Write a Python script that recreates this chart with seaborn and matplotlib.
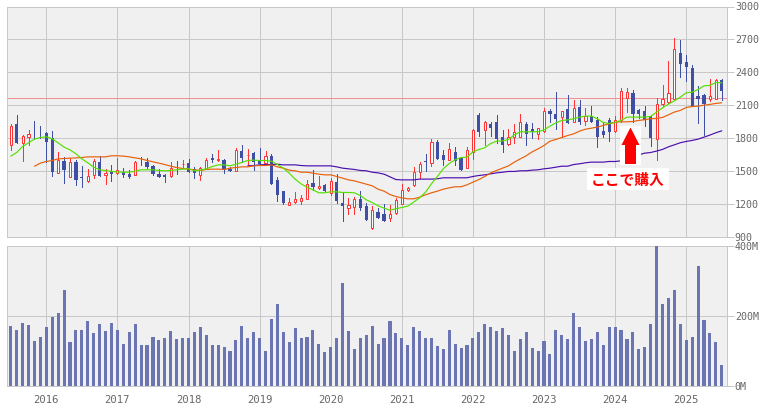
import numpy as np
import matplotlib
matplotlib.use("Agg")
import matplotlib.pyplot as plt
from matplotlib.patches import Polygon, Rectangle
import seaborn as sns

# monthly candles, 2015-07 .. 2025-07
opens = [1737,1923,1755,1807,1840,1856,1847,1801,1478,1588,1442,1576,1439,1405,1460,1576,1460,1497,1478,1490,1475,1463,1573,1576,1548,1472,1466,1451,1539,1560,1573,1512,1460,
         1518,1621,1603,1600,1512,1496,1685,1643,1658,1594,1569,1639,1417,1311,1186,1213,1223,1241,1393,1341,1366,1293,1399,1207,1159,1168,1238,1174,982,1128,1101,1068,
         1119,1201,1323,1366,1487,1585,1570,1767,1640,1597,1676,1621,1530,1676,2005,1868,1923,1941,1804,1743,1804,1813,1923,1886,1840,1859,2050,2023,1987,2060,1950,2078,
         1953,1996,1960,1859,1960,1859,1960,2169,2206,2051,2042,1996,1786,2106,2124,2151,2580,2489,2443,2179,2188,2151,2160,2325]
highs = [1923,2005,1831,1874,1959,1913,1856,1859,1676,1624,1618,1594,1548,1518,1612,1637,1518,1557,1621,1527,1503,1585,1630,1621,1557,1512,1475,1576,1588,1600,1612,1536,1539,
         1621,1649,1694,1609,1539,1709,1740,1703,1667,1709,1682,1649,1439,1320,1253,1302,1283,1417,1503,1448,1375,1430,1475,1308,1253,1265,1320,1210,1174,1156,1201,1192,
         1247,1375,1350,1539,1576,1649,1786,1777,1694,1758,1713,1621,1713,1877,2032,1959,1950,2005,1868,1886,1923,2023,1941,1932,1895,2069,2060,2215,2050,2196,2142,2142,
         2069,2087,1987,1950,1978,1996,2252,2252,2242,2060,2087,2005,2169,2282,2498,2708,2690,2553,2462,2270,2197,2334,2334,2334]
lows = [1694,1752,1588,1731,1792,1801,1579,1451,1478,1387,1442,1369,1351,1396,1430,1451,1378,1405,1472,1439,1430,1460,1557,1527,1460,1442,1402,1442,1472,1527,1487,1430,1420,
        1512,1579,1588,1484,1496,1496,1576,1551,1503,1563,1563,1378,1223,1201,1186,1210,1195,1241,1329,1338,1320,1283,1210,1037,1110,1110,1146,1055,973,1073,1046,1040,
        1101,1198,1314,1357,1430,1494,1548,1612,1557,1594,1557,1503,1521,1612,1822,1731,1819,1758,1676,1740,1758,1813,1740,1795,1786,1850,1950,1877,1804,1932,1941,1923,
        1914,1944,1713,1804,1768,1850,1941,2033,1941,1978,1905,1722,1594,2096,2115,2142,2352,2316,2087,1932,1823,2133,2151,2142]
closes = [1913,1752,1819,1837,1834,1850,1761,1487,1600,1503,1582,1414,1436,1454,1591,1451,1481,1469,1509,1460,1439,1576,1570,1533,1469,1442,1442,1524,1521,1564,1487,1478,1530,
          1600,1594,1609,1503,1500,1691,1621,1646,1582,1563,1636,1378,1277,1210,1216,1244,1253,1381,1356,1363,1320,1411,1220,1174,1192,1238,1156,1055,1146,1073,1046,1107,
          1229,1326,1344,1490,1564,1579,1767,1612,1594,1700,1585,1503,1691,1868,1850,1941,1895,1786,1740,1813,1850,1941,1840,1850,1895,2050,2014,1977,2050,1935,2069,1950,
          1999,1944,1813,1823,1850,1960,2233,2215,2023,2014,1960,1795,2106,2151,2206,2608,2471,2452,2087,2151,2106,2179,2325,2224]

ma_short = [1634,1667,1722,1755,1789,1804,1810,1792,1755,1716,1691,1655,1609,1573,1533,1509,1503,1494,1490,1487,1487,1497,1509,1509,1509,1503,1500,1503,1509,1515,1518,1500,1506,
            1518,1539,1554,1554,1545,1560,1576,1594,1597,1594,1594,1588,1557,1524,1478,1423,1381,1350,1326,1299,1299,1308,1308,1302,1302,1299,1274,1235,1210,1180,1159,1140,
            1153,1165,1177,1214,1253,1305,1381,1448,1518,1567,1600,1621,1624,1673,1694,1710,1749,1770,1773,1786,1828,1856,1856,1856,1856,1874,1907,1938,1959,1965,
            1975,1990,1999,1999,1975,1941,1932,1941,1960,1990,1990,1990,1990,1996,2036,2075,2109,2139,2172,2212,2218,2242,2276,2279,2306,2303]
ma_mid = [1542,1570,1585,1594,1609,1612,1615,1618,1621,1627,1627,1627,1627,1637,1637,1634,1627,1618,1609,1594,1582,1570,1557,1542,1530,1521,1515,1509,1503,
          1512,1515,1515,1512,1524,1530,1536,1536,1545,1548,1548,1554,1536,1524,1506,1500,1487,1487,1478,1469,1463,1463,1448,1433,1417,1408,1393,1378,1363,1332,1314,1283,
          1265,1253,1244,1244,1259,1281,1299,1314,1332,1344,1354,1354,1372,1396,1420,1448,1481,1503,1524,1545,1579,1609,1637,1673,1700,1731,1770,1786,1804,1822,1837,
          1862,1880,1889,1899,1914,1929,1944,1947,1947,1950,1960,1966,1975,1978,1987,2011,2036,2051,2078,2087,2090,2099,2106,2115,2121]
ma_long = [1545,1548,1554,1557,1557,1560,1554,1554,1554,1548,1545,1545,1545,1545,1545,1536,1524,1518,1512,1503,1500,1487,1481,1469,1445,
           1420,1417,1417,1417,1424,1424,1424,1427,1436,1436,1436,1436,1436,1448,1457,1463,1472,1481,1487,1494,1494,1500,1500,1506,1509,1518,1524,1533,1542,1542,1557,
           1564,1573,1579,1579,1579,1585,1585,1591,1603,1625,1646,1661,1667,1680,1695,1719,1737,1756,1768,1777,1789,1807,1826,1847,1865]

volume = [169,160,180,172,126,140,166,195,206,272,123,160,160,183,149,175,155,178,160,120,152,175,117,117,140,129,135,155,132,137,137,152,166,143,115,115,109,100,129,169,135,152,135,
          100,189,232,152,123,163,135,140,158,120,95,109,135,292,155,103,135,143,169,120,135,183,149,135,115,166,155,135,137,112,103,160,120,106,115,137,152,175,166,155,163,143,
          100,132,152,106,100,126,89,160,143,132,206,166,126,132,152,117,166,166,158,132,152,103,109,175,398,232,249,272,175,129,140,341,186,149,123,60]

year_labels = ["2016","2017","2018","2019","2020","2021","2022","2023","2024","2025"]
price_ticks = [900,1200,1500,1800,2100,2400,2700,3000]
volume_ticks = [0,200,400]
volume_tick_labels = ["0M","200M","400M"]
ref_price = 2166

W, H = 767, 408
GRID = "#c8c8c8"
RED = "#ff3333"
BLUE = "#3f4fa3"
TXT = "#666666"
PX = 0.72  # one pixel at dpi 100

sns.set_style("white", {"axes.facecolor": "#f0f0f0", "axes.edgecolor": GRID, "grid.color": GRID})
plt.rcParams["font.family"] = ["DejaVu Sans Mono"]

months = np.arange(len(closes))
year_pos = months[6::12]
opens, highs, lows, closes = map(np.array, (opens, highs, lows, closes))
up = closes >= opens

fig = plt.figure(figsize=(W / 100, H / 100), dpi=100)


def panel(top, bottom):
    return fig.add_axes([6.5 / W, 1 - bottom / H, 720 / W, (bottom - top) / H])


ax = panel(6.5, 236.5)
ax2 = panel(245.5, 385.5)

for a in (ax, ax2):
    a.set_xlim(-0.72, 120.8)
    a.set_xticks(year_pos)
    a.yaxis.tick_right()
    a.grid(True, color=GRID, lw=PX, zorder=0)
    a.set_axisbelow(True)
    for s in a.spines.values():
        s.set_linewidth(PX)
        s.set_color(GRID)
    a.tick_params(axis="y", length=5, width=PX, color=GRID, labelsize=7.2, labelcolor=TXT, pad=1)

ax.set_ylim(900, 3000)
ax.set_yticks(price_ticks)
ax.tick_params(axis="x", length=0, labelbottom=False)
ax.axhline(ref_price, color="#f09090", lw=PX, zorder=1)

# candles
ax.vlines(months[up], lows[up], highs[up], color=RED, lw=PX, zorder=3, antialiased=False)
ax.vlines(months[~up], lows[~up], highs[~up], color=BLUE, lw=PX, zorder=3, antialiased=False)
ax.bar(months[~up], (closes - opens)[~up], bottom=opens[~up], width=0.55, color=BLUE, lw=0, zorder=4)
ax.bar(months[up], (closes - opens)[up], bottom=opens[up], width=0.36, facecolor="white", edgecolor=RED, lw=PX, zorder=4)

# moving averages
sns.lineplot(x=months[40:], y=ma_long, ax=ax, color="#4b0fb0", linewidth=0.85, zorder=5, errorbar=None)
sns.lineplot(x=months[4:], y=ma_mid, ax=ax, color="#e8600a", linewidth=0.85, zorder=5, errorbar=None)
sns.lineplot(x=months, y=ma_short, ax=ax, color="#55e000", linewidth=0.85, zorder=5, errorbar=None)
ax.set_xlabel("")
ax.set_ylabel("")

# volume
sns.barplot(x=months, y=volume, ax=ax2, native_scale=True, width=0.52, color="#6b75b2", saturation=1, linewidth=0, zorder=3)
ax2.set_xlim(-0.72, 120.8)
ax2.set_ylim(0, 400)
ax2.set_yticks(volume_ticks)
ax2.set_yticklabels(volume_tick_labels)
ax2.set_xticks(year_pos)
ax2.set_xticklabels(year_labels)
ax2.tick_params(axis="x", length=6, width=PX, color=GRID, labelsize=7.6, labelcolor=TXT, pad=1)
ax2.set_xlabel("")
ax2.set_ylabel("")


# buy annotation, placed in picture pixels
def fx(px):
    return px / W


def fy(py):
    return 1 - py / H


fig.add_artist(Rectangle((fx(620), fy(165)), 21 / W, 39 / H, transform=fig.transFigure, fc="white", ec="none", zorder=6))
fig.add_artist(Rectangle((fx(587), fy(190)), 82 / W, 22 / H, transform=fig.transFigure, fc="white", ec="none", zorder=6))
arrow_px = [(630.5, 127.5), (639.5, 145), (636, 145), (636, 164), (625, 164), (625, 145), (621.5, 145)]
fig.add_artist(Polygon([(fx(x), fy(y)) for x, y in arrow_px], transform=fig.transFigure, fc="#ff0000", ec="none", zorder=7))
fig.text(fx(628), fy(179.5), "ここで購入", color="#ff0000", fontsize=10.6, fontweight="bold",
         family=["Noto Sans CJK JP", "DejaVu Sans"], ha="center", va="center", zorder=8)

fig.savefig("out.png", dpi=100)
